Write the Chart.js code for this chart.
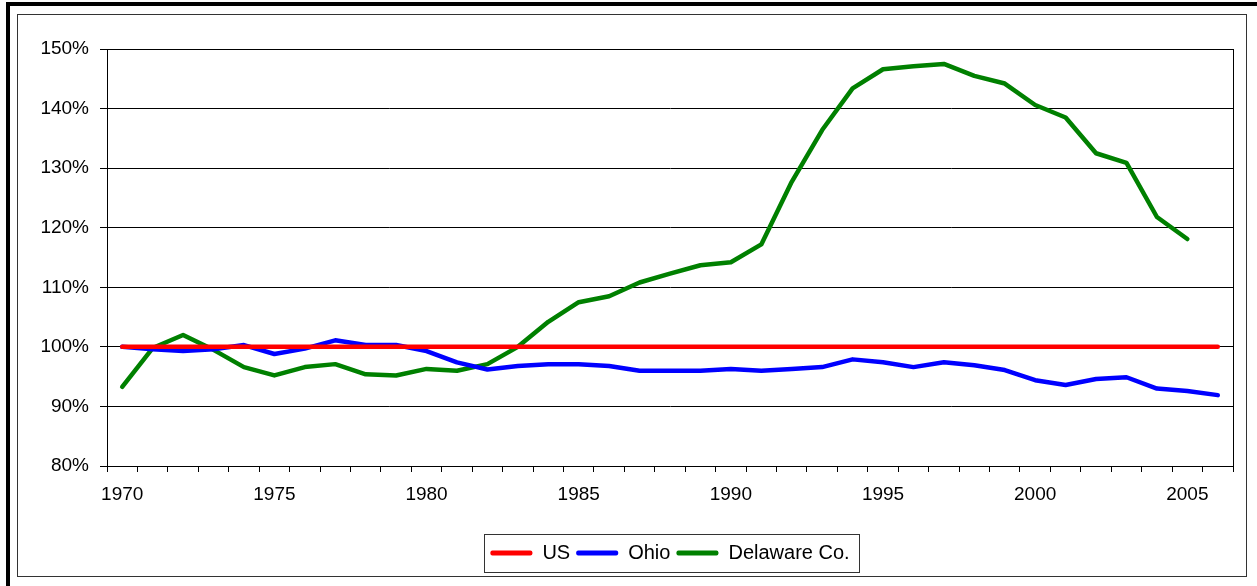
<!DOCTYPE html>
<html>
<head>
<meta charset="utf-8">
<script src="https://cdn.jsdelivr.net/npm/chart.js@4"></script>
<style>
  html, body { margin: 0; padding: 0; background: #fff; overflow: hidden; }
  #frame {
    position: absolute; left: 6px; top: 2px;
    width: 1400px; height: 800px;
    border: 4px solid #000;
  }
  #inner {
    position: absolute; left: 17px; top: 14px;
    width: 1228px; height: 561px;
    border: 1px solid #333;
    background: #fff;
  }
  #chart { display: block; }
</style>
</head>
<body>
<div id="frame"></div>
<div id="inner"><canvas id="chart" width="1228" height="561"></canvas></div>
<script>
const years = [];
for (let y = 1970; y <= 2006; y++) years.push(y);

const usValues = [
  100, 100, 100, 100, 100, 100, 100, 100, 100, 100,
  100, 100, 100, 100, 100, 100, 100, 100, 100, 100,
  100, 100, 100, 100, 100, 100, 100, 100, 100, 100,
  100, 100, 100, 100, 100, 100, 100
];

const ohioValues = [
  100.0, 99.6, 99.3, 99.6, 100.3, 98.8, 99.7, 101.1, 100.3, 100.3,
  99.3, 97.4, 96.2, 96.8, 97.1, 97.1, 96.8, 96.0, 96.0, 96.0,
  96.3, 96.0, 96.3, 96.6, 97.9, 97.4, 96.6, 97.4, 96.9, 96.1,
  94.4, 93.6, 94.6, 94.9, 93.0, 92.6, 91.9
];

const delawareValues = [
  93.3, 99.8, 102.0, 99.5, 96.6, 95.2, 96.6, 97.1, 95.4, 95.2,
  96.3, 96.0, 97.1, 100.0, 104.2, 107.5, 108.5, 110.8, 112.3, 113.7,
  114.2, 117.2, 127.7, 136.4, 143.4, 146.6, 147.1, 147.5, 145.5, 144.2,
  140.6, 138.5, 132.5, 130.9, 121.8, 118.1, null
];

const yTicks = { min: 80, max: 150, step: 10 };

const font = { family: "'Liberation Sans', Arial, sans-serif", size: 19 };

const line = (label, data, color) => ({
  label,
  data,
  borderColor: color,
  backgroundColor: color,
  borderWidth: 4.5,
  pointRadius: 0,
  tension: 0,
  borderCapStyle: "round",
  borderJoinStyle: "round",
  spanGaps: false,
});

// box around the plot area and around the legend
const frames = {
  id: "frames",
  afterDraw(chart) {
    const { ctx, chartArea: a, legend } = chart;
    ctx.save();
    ctx.strokeStyle = "#000";
    ctx.lineWidth = 1;
    ctx.strokeRect(Math.round(a.left) + 0.5, Math.round(a.top) + 0.5,
      Math.round(a.right - a.left), Math.round(a.bottom - a.top));
    const boxes = legend.legendHitBoxes;
    if (boxes && boxes.length) {
      const l = boxes[0].left - 6;
      const last = boxes[boxes.length - 1];
      const r = last.left + last.width + 10;
      const t = boxes[0].top + boxes[0].height / 2 - 19;
      ctx.strokeStyle = "#333";
      ctx.strokeRect(Math.round(l) + 0.5, Math.round(t) + 0.5, Math.round(r - l), 38);
    }
    ctx.restore();
  },
};

new Chart(document.getElementById("chart").getContext("2d"), {
  type: "line",
  data: {
    labels: years,
    datasets: [
      line("US", usValues, "#ff0000"),
      line("Ohio", ohioValues, "#0000ff"),
      line("Delaware Co.", delawareValues, "#008000"),
    ],
  },
  options: {
    responsive: false,
    animation: false,
    layout: { padding: { top: 34, right: 13, bottom: 3, left: 0 } },
    plugins: {
      tooltip: { enabled: false },
      legend: {
        position: "bottom",
        fullSize: false,
        labels: {
          font: { family: font.family, size: 20 },
          color: "#000",
          boxWidth: 42,
          boxHeight: 5,
          padding: 6,
          generateLabels: (chart) =>
            chart.data.datasets.map((ds, i) => ({
              text: ds.label,
              fillStyle: ds.borderColor,
              strokeStyle: ds.borderColor,
              lineWidth: 0,
              borderRadius: 2,
              fontColor: "#000",
              hidden: false,
              datasetIndex: i,
            })),
        },
      },
    },
    scales: {
      x: {
        offset: true,
        afterFit: (s) => { s.height = 71; },
        grid: {
          offset: true,
          drawOnChartArea: false,
          drawTicks: true,
          tickLength: 6,
          color: "#000",
        },
        border: { color: "#000", width: 1 },
        ticks: {
          autoSkip: false,
          maxRotation: 0,
          padding: 11,
          color: "#000",
          font,
          callback: (v, i) => (years[i] % 5 === 0 ? String(years[i]) : ""),
        },
      },
      y: {
        min: yTicks.min,
        max: yTicks.max,
        afterFit: (s) => { s.width = 89; },
        grid: { color: "#000", lineWidth: 1, tickLength: 7 },
        border: { color: "#000", width: 1 },
        ticks: {
          stepSize: yTicks.step,
          padding: 11,
          color: "#000",
          font,
          callback: (v) => v + "%",
        },
      },
    },
  },
  plugins: [frames],
});
</script>
</body>
</html>
